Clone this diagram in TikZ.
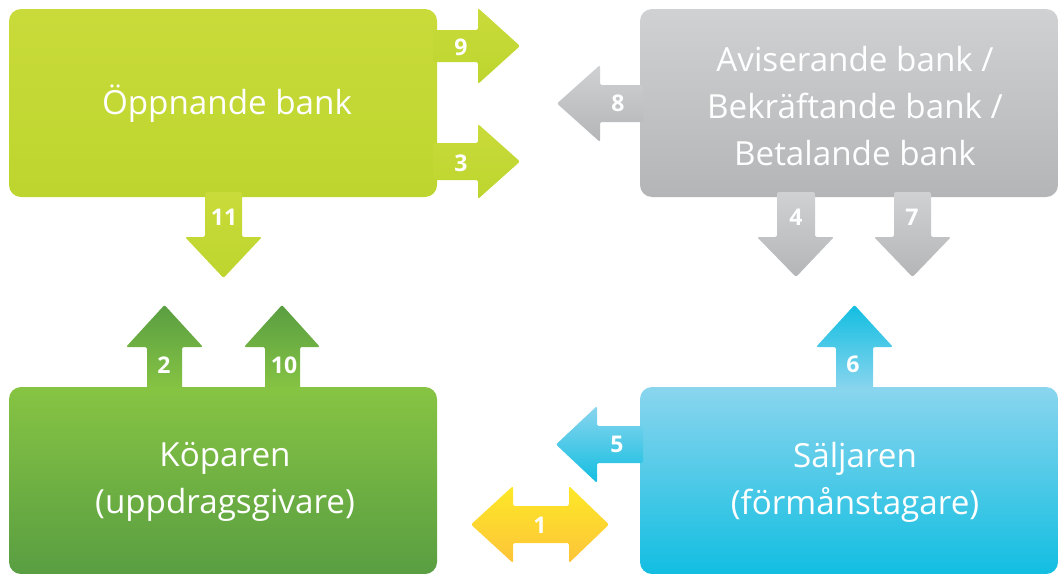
\documentclass[tikz,border=0pt]{standalone}
\usepackage{fontspec}
\setmainfont{Open Sans}
\begin{document}
\begin{tikzpicture}[x=1pt,y=-1pt,
  boxtxt/.style={text=white,align=center,font=\fontsize{33.2}{47}\selectfont},
  numtxt/.style={text=white,font=\fontsize{23}{26}\selectfont\bfseries},
  limefill/.style={top color=lime1,bottom color=lime2},
  grayfill/.style={top color=gray1,bottom color=gray2},
  greenfill/.style={top color=green1,bottom color=green2},
  greenup/.style={top color=green2,bottom color=green1},
  bluefill/.style={top color=blue1,bottom color=blue2},
  blueup/.style={top color=blue2,bottom color=blue1},
  yellowfill/.style={top color=yel1,bottom color=yel2},
  boxshape/.style={rounded corners=12pt},
  arrowshape/.style={rounded corners=2pt}]
\definecolor{lime1}{HTML}{C9DB3A}
\definecolor{lime2}{HTML}{BDD52E}
\definecolor{gray1}{HTML}{D0D1D3}
\definecolor{gray2}{HTML}{B4B5B7}
\definecolor{green1}{HTML}{87C443}
\definecolor{green2}{HTML}{599E42}
\definecolor{blue1}{HTML}{8AD5EE}
\definecolor{blue2}{HTML}{12BEE1}
\definecolor{yel1}{HTML}{FDE826}
\definecolor{yel2}{HTML}{FDC43A}
\useasboundingbox (0,0) rectangle (1059,573);
% boxes
\path[boxshape,limefill] (9,9) rectangle (437,197);
\path[boxshape,grayfill] (640,9) rectangle (1058,197);
\path[boxshape,greenfill] (9,387) rectangle (437,574);
\path[boxshape,bluefill] (640,387) rectangle (1058,574);
\node[boxtxt] (a) at (227,104) {Öppnande bank};
\node[boxtxt] (b) at (855,106) {Aviserande bank /\\Bekräftande bank /\\Betalande bank};
\node[boxtxt] (c) at (225,482) {Köparen\\(uppdragsgivare)};
\node[boxtxt] (d) at (855,482) {Säljaren\\(förmånstagare)};
% arrow 9
\path[arrowshape,limefill] (433,30) -- (478,30) -- (478,8) -- (520,46) -- (478,84) -- (478,62) -- (433,62) -- cycle;
\node[numtxt] (n9) at (461,47) {9};
% arrow 3
\path[arrowshape,limefill] (433,143) -- (478,143) -- (478,124) -- (520,161.5) -- (478,199) -- (478,180) -- (433,180) -- cycle;
\node[numtxt] (n3) at (461,163) {3};
% arrow 11
\path[arrowshape,limefill] (205,192) -- (242,192) -- (242,237) -- (262,237) -- (223.5,278) -- (185,237) -- (205,237) -- cycle;
\node[numtxt] (n11) at (224,217) {11};
% arrow 8
\path[arrowshape,grayfill] (643,85) -- (600,85) -- (600,65) -- (557,103.5) -- (600,142) -- (600,122) -- (643,122) -- cycle;
\node[numtxt] (n8) at (618,103) {8};
% arrow 4
\path[arrowshape,grayfill] (777,192) -- (815,192) -- (815,237) -- (834,237) -- (796,277) -- (757,237) -- (777,237) -- cycle;
\node[numtxt] (n4) at (796,217) {4};
% arrow 7
\path[arrowshape,grayfill] (894,192) -- (931,192) -- (931,237) -- (951,237) -- (912.5,277) -- (874,237) -- (894,237) -- cycle;
\node[numtxt] (n7) at (912,217) {7};
% arrow 2
\path[arrowshape,greenup] (147,390) -- (147,347) -- (126,347) -- (164.5,305) -- (203,347) -- (182,347) -- (182,390) -- cycle;
\node[numtxt] (n2) at (164,365) {2};
% arrow 10
\path[arrowshape,greenup] (265,390) -- (265,347) -- (244,347) -- (282,305) -- (320,347) -- (300,347) -- (300,390) -- cycle;
\node[numtxt] (n10) at (284,365) {10};
% arrow 6
\path[arrowshape,blueup] (836,390) -- (836,347) -- (816,347) -- (854.5,305) -- (893,347) -- (873,347) -- (873,390) -- cycle;
\node[numtxt] (n6) at (853,364) {6};
% arrow 5
\path[arrowshape,bluefill] (643,426) -- (597,426) -- (597,406) -- (556,444.5) -- (597,483) -- (597,463) -- (643,463) -- cycle;
\node[numtxt] (n5) at (617,444) {5};
% arrow 1
\path[arrowshape,yellowfill] (471,524.5) -- (513,486) -- (513,506) -- (569,506) -- (569,486) -- (609,524.5) -- (569,563) -- (569,543) -- (513,543) -- (513,563) -- cycle;
\node[numtxt] (n1) at (540,525) {1};
\end{tikzpicture}
\end{document}
